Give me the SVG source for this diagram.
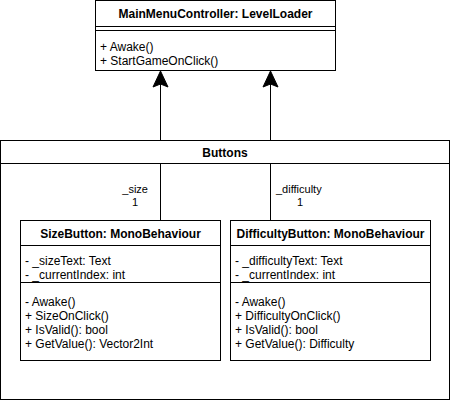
<svg xmlns="http://www.w3.org/2000/svg" width="451" height="401" viewBox="0 0 451 401">
<style>
.box{fill:#fff;stroke:#000;stroke-width:1}
.ln{stroke:#000;stroke-width:1;fill:none}
.t{font-family:"Liberation Sans",Arial,sans-serif;font-size:12px;fill:#000}
.b{font-weight:bold;text-anchor:middle}
.lbl{font-family:"Liberation Sans",Arial,sans-serif;font-size:11px;fill:#000}
</style>
<defs>
<path id="ah" d="M0,0 L-7.5,16 L0,13 L7.5,16 Z" fill="#000" stroke="#000" stroke-width="1"/>
</defs>
<g id="connectors">
<line class="ln" x1="160.5" y1="83" x2="160.5" y2="220"/>
<line class="ln" x1="270.5" y1="83" x2="270.5" y2="220"/>
<use href="#ah" x="160.5" y="71"/>
<use href="#ah" x="270.5" y="71"/>
<text class="lbl" x="148" y="193" text-anchor="end">_size</text>
<text class="lbl" x="135" y="206" text-anchor="middle">1</text>
<text class="lbl" x="276" y="193">_difficulty</text>
<text class="lbl" x="300" y="206" text-anchor="middle">1</text>
</g>
<g id="MainMenuController">
<rect class="box" x="95.5" y="0.5" width="240" height="70"/>
<line class="ln" x1="95.5" y1="26.5" x2="335.5" y2="26.5"/>
<line class="ln" x1="95.5" y1="30.5" x2="335.5" y2="30.5"/>
<text class="t b" x="215.5" y="18">MainMenuController: LevelLoader</text>
<text class="t" x="100" y="51">+ Awake()</text>
<text class="t" x="100" y="65">+ StartGameOnClick()</text>
</g>
<g id="Buttons">
<rect x="0.5" y="140.5" width="449" height="259" fill="none" stroke="#000"/>
<rect class="box" x="0.5" y="140.5" width="449" height="23"/>
<text class="t b" x="225" y="157">Buttons</text>
</g>
<g id="SizeButton">
<rect class="box" x="20.5" y="220.5" width="200" height="140"/>
<line class="ln" x1="20.5" y1="245.5" x2="220.5" y2="245.5"/>
<line class="ln" x1="20.5" y1="282.5" x2="220.5" y2="282.5"/>
<text class="t b" x="120.5" y="238">SizeButton: MonoBehaviour</text>
<text class="t" x="25" y="265">- _sizeText: Text</text>
<text class="t" x="25" y="279">- _currentIndex: int</text>
<text class="t" x="25" y="306">- Awake()</text>
<text class="t" x="25" y="320">+ SizeOnClick()</text>
<text class="t" x="25" y="334">+ IsValid(): bool</text>
<text class="t" x="25" y="348">+ GetValue(): Vector2Int</text>
</g>
<g id="DifficultyButton">
<rect class="box" x="230.5" y="220.5" width="200" height="140"/>
<line class="ln" x1="230.5" y1="245.5" x2="430.5" y2="245.5"/>
<line class="ln" x1="230.5" y1="282.5" x2="430.5" y2="282.5"/>
<text class="t b" x="330.5" y="238">DifficultyButton: MonoBehaviour</text>
<text class="t" x="235" y="265">- _difficultyText: Text</text>
<text class="t" x="235" y="279">- _currentIndex: int</text>
<text class="t" x="235" y="306">- Awake()</text>
<text class="t" x="235" y="320">+ DifficultyOnClick()</text>
<text class="t" x="235" y="334">+ IsValid(): bool</text>
<text class="t" x="235" y="348">+ GetValue(): Difficulty</text>
</g>
</svg>
